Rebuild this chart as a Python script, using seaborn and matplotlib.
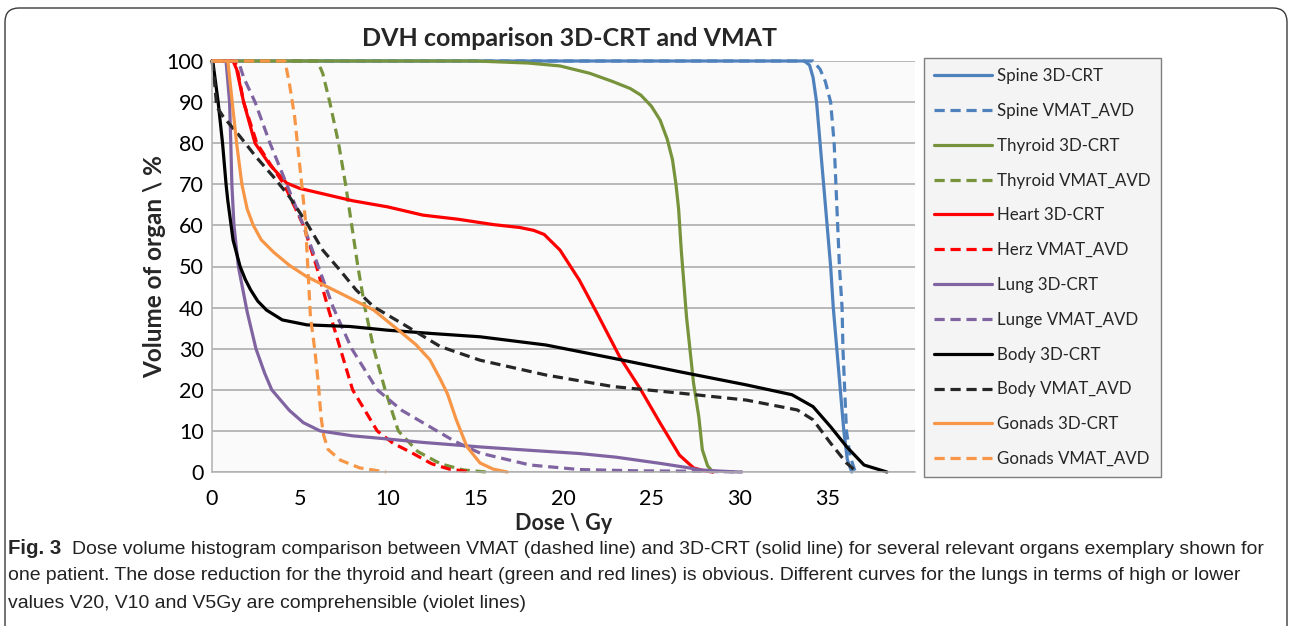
import matplotlib
matplotlib.use('Agg')
import matplotlib.pyplot as plt
import matplotlib.transforms as mtransforms
from matplotlib.patches import FancyBboxPatch
import seaborn as sns

# ---------------- data (Dose in Gy, Volume in %) ----------------
spine_crt_dose = [0, 33.7, 34.0, 34.2, 34.4, 34.6, 34.8, 35.0, 35.2, 35.35, 35.55, 35.75, 35.95, 36.15, 36.4]
spine_crt_vol = [100, 100, 99, 96, 90, 80, 70, 60, 50, 40, 30, 20, 10, 3, 0]

spine_vmat_dose = [0, 34.2, 34.6, 34.9, 35.2, 35.4, 35.5, 35.6, 35.7, 35.85, 35.9, 36.0, 36.1, 36.3, 36.6]
spine_vmat_vol = [100, 100, 98, 95, 90, 80, 70, 60, 50, 40, 30, 20, 10, 4, 0]

thyroid_crt_dose = [0, 15.0, 18.0, 19.8, 21.5, 22.8, 23.8, 24.4, 25.0, 25.5, 25.9, 26.2, 26.4, 26.55, 26.7,
                    27.0, 27.4, 27.7, 27.9, 28.2, 28.5]
thyroid_crt_vol = [100, 100, 99.5, 98.8, 97, 95, 93.3, 91.7, 89, 85.6, 81, 76, 70, 64, 54,
                   37.7, 21.6, 13.4, 5.4, 1.5, 0]

thyroid_vmat_dose = [0, 6.0, 6.3, 6.7, 7.2, 7.6, 7.95, 8.3, 8.7, 9.2, 9.85, 10.6, 11.7, 13.0, 14.3, 15.6]
thyroid_vmat_vol = [100, 100, 97, 90, 80, 70, 60, 50, 40, 30, 20, 10, 5, 2, 0.5, 0]

heart_crt_dose = [0, 1.2, 1.4, 1.8, 2.45, 3.3, 4.25, 5.0, 6.0, 8.0, 10.0, 12.0, 14.0, 16.0, 17.5, 18.3, 18.9,
                  19.8, 20.9, 21.9, 23.2, 24.4, 25.5, 26.6, 27.4, 28.0, 28.5]
heart_crt_vol = [100, 100, 98, 90, 80, 74.7, 70.3, 69, 68, 66, 64.5, 62.5, 61.5, 60.2, 59.5, 58.8, 57.8,
                 54, 46.7, 38.7, 28, 20, 11.9, 4.1, 1, 0.3, 0]

heart_vmat_dose = [0, 1.2, 1.4, 1.8, 2.55, 3.3, 4.1, 5.2, 5.95, 6.6, 7.3, 8.0, 9.4, 10.3, 11.4, 12.5, 13.5, 14.8]
heart_vmat_vol = [100, 100, 99, 90, 80, 75, 70, 60, 50, 40, 30, 20, 10, 7, 4.6, 2, 0.7, 0]

lung_crt_dose = [0, 0.8, 1.0, 1.07, 1.13, 1.25, 1.5, 2.0, 2.5, 3.0, 3.4, 4.4, 5.2, 6.15, 8.0, 9.56, 12.0, 15.25,
                 18.0, 20.9, 23.0, 25.5, 27.0, 27.8, 29.0, 30.0]
lung_crt_vol = [100, 100, 90, 80, 70, 60, 50, 39, 30, 24, 20, 15, 12, 10, 8.8, 8.2, 7.2, 6.1,
                5.3, 4.5, 3.6, 2.1, 1.1, 0.5, 0.2, 0]

lung_vmat_dose = [0, 1.5, 1.8, 2.45, 3.3, 4.25, 5.2, 6.05, 6.9, 7.95, 9.4, 10.8, 12.4, 13.8, 15.25, 18.1,
                  20.9, 24.0, 27.0, 30.2]
lung_vmat_vol = [100, 100, 96, 90, 80, 70, 60, 50, 40, 30, 20, 15, 11, 7.5, 4.6, 1.7, 0.6, 0.3, 0.2, 0]

body_crt_dose = [0, 0.05, 0.35, 0.6, 0.8, 0.9, 1.2, 1.6, 1.9, 2.2, 2.6, 3.1, 4.0, 5.4, 7.85, 10.0, 12.5, 15.25,
                 19.0, 22.8, 26.6, 30.4, 33.0, 34.2, 35.2, 36.1, 37.1, 38.4]
body_crt_vol = [100, 99.8, 90, 80, 70, 66, 56.4, 50, 46.8, 44.3, 41.6, 39.4, 37, 35.8, 35.4, 34.5, 33.7, 32.9,
                30.9, 27.7, 24.4, 21.2, 18.8, 15.9, 11, 6.2, 1.7, 0]

body_vmat_dose = [0, 0.1, 0.27, 0.63, 1.6, 2.5, 3.5, 4.4, 5.4, 6.3, 7.3, 8.2, 9.2, 11.1, 13.0, 15.25, 19.0,
                  22.8, 26.6, 30.4, 33.3, 34.2, 35.2, 36.1, 36.7]
body_vmat_vol = [100, 97, 88.9, 86.5, 81.6, 76.7, 71.8, 67, 60.5, 54, 49, 44.3, 40.2, 35.4, 30.5, 27.2, 23.6,
                 20.8, 19.2, 17.5, 15.1, 12.7, 7, 2.2, 0]

gonads_crt_dose = [0, 0.9, 1.15, 1.4, 1.7, 2.0, 2.35, 2.8, 3.5, 4.4, 5.4, 7.3, 9.2, 10.9, 11.6, 12.4, 13.0,
                   13.4, 13.9, 14.5, 15.25, 16.0, 16.8]
gonads_crt_vol = [100, 100, 90, 80, 70, 64, 60, 56.5, 53.5, 50.3, 47.5, 43.5, 39.4, 33.5, 31, 27.3, 22.5,
                  19, 12.7, 6.2, 2.2, 0.7, 0]

gonads_vmat_dose = [0, 4.15, 4.4, 4.7, 4.9, 5.1, 5.3, 5.4, 5.5, 5.6, 5.85, 6.05, 6.2, 6.35, 6.6, 7.3, 8.4, 9.9]
gonads_vmat_vol = [100, 100, 94.6, 86.5, 78.3, 70.2, 62, 54, 46, 37.8, 29.7, 21.6, 13.5, 9, 5.5, 2.9, 1, 0]

series_labels = ["Spine 3D-CRT", "Spine VMAT_AVD", "Thyroid 3D-CRT", "Thyroid VMAT_AVD",
                 "Heart 3D-CRT", "Herz VMAT_AVD", "Lung 3D-CRT", "Lunge VMAT_AVD",
                 "Body 3D-CRT", "Body VMAT_AVD", "Gonads 3D-CRT", "Gonads VMAT_AVD"]
series_data = [(spine_crt_dose, spine_crt_vol), (spine_vmat_dose, spine_vmat_vol),
               (thyroid_crt_dose, thyroid_crt_vol), (thyroid_vmat_dose, thyroid_vmat_vol),
               (heart_crt_dose, heart_crt_vol), (heart_vmat_dose, heart_vmat_vol),
               (lung_crt_dose, lung_crt_vol), (lung_vmat_dose, lung_vmat_vol),
               (body_crt_dose, body_crt_vol), (body_vmat_dose, body_vmat_vol),
               (gonads_crt_dose, gonads_crt_vol), (gonads_vmat_dose, gonads_vmat_vol)]

x_ticks = [0, 5, 10, 15, 20, 25, 30, 35]
y_ticks = [0, 10, 20, 30, 40, 50, 60, 70, 80, 90, 100]

title = "DVH comparison 3D-CRT and VMAT"
x_label = "Dose \\ Gy"
y_label = "Volume of organ \\ %"
caption_bold = "Fig. 3"
caption_lines = [
    "Dose volume histogram comparison between VMAT (dashed line) and 3D-CRT (solid line) for several relevant organs exemplary shown for",
    "one patient. The dose reduction for the thyroid and heart (green and red lines) is obvious. Different curves for the lungs in terms of high or lower",
    "values V20, V10 and V5Gy are comprehensible (violet lines)",
]

# ---------------- styling ----------------
organ_colors = ["#4F81BD", "#4F81BD", "#77933C", "#77933C", "#FF0000", "#FF0000",
                "#8064A2", "#8064A2", "#000000", "#262626", "#F79646", "#F79646"]
dashed = [False, True] * 6

sns.set_theme(style="white")
plt.rcParams['font.family'] = ['Lato', 'DejaVu Sans']

W, H = 1292, 626
fig = plt.figure(figsize=(W / 100, H / 100), dpi=100)
fig.patch.set_facecolor("white")

# outer rounded frame
frame = FancyBboxPatch((5, -30), W - 10, (H - 8) + 30,
                       boxstyle="round,pad=0,rounding_size=14",
                       transform=mtransforms.IdentityTransform(),
                       facecolor="none", edgecolor="#3a3a3a", linewidth=1.0)
fig.patches.append(frame)

ax = fig.add_axes([212 / W, 1 - 472 / H, (915 - 212) / W, (472 - 61) / H])
ax.set_facecolor("#fafafa")

for (d, v), lab, col, ds in zip(series_data, series_labels, organ_colors, dashed):
    ls = (0, (3.2, 1.8)) if ds else "-"
    sns.lineplot(x=d, y=v, ax=ax, color=col, linestyle=ls, linewidth=2.3,
                 sort=False, estimator=None, label=lab, clip_on=False)

ax.set_xlim(0, 40)
ax.set_ylim(0, 100)
ax.set_xticks(x_ticks)
ax.set_yticks(y_ticks)
ax.tick_params(axis="both", length=0, labelsize=15.5, colors="#000000")
ax.tick_params(axis="x", pad=12)
ax.tick_params(axis="y", pad=6)
ax.yaxis.grid(True, color="#a6a6a6", linewidth=1.1)
ax.xaxis.grid(False)
ax.set_axisbelow(True)
for s in ["top", "right"]:
    ax.spines[s].set_visible(False)
for s in ["left", "bottom"]:
    ax.spines[s].set_color("#b0b0b0")
    ax.spines[s].set_linewidth(1.1)

ax.set_xlabel(x_label, fontsize=15.5, fontweight="bold", labelpad=3)
ax.set_ylabel(y_label, fontsize=17.5, fontweight="bold", labelpad=0)
fig.text(570 / W, 1 - 38 / H, title, ha="center", va="center", fontsize=18, fontweight="bold")

leg = ax.legend(loc="upper left", bbox_to_anchor=(924 / W, 1 - 58 / H), bbox_transform=fig.transFigure,
                borderaxespad=0, fontsize=12.2, handlelength=3.4, handletextpad=0.3,
                labelspacing=1.11, borderpad=0.6, frameon=True, fancybox=False)
leg.get_frame().set_facecolor("#f2f2f2")
leg.get_frame().set_edgecolor("#606060")
leg.get_frame().set_linewidth(1.0)
for t in leg.get_texts():
    t.set_color("#262626")

# caption, sized to fit the reference line widths
cap_font = ['Liberation Sans Narrow', 'Liberation Sans', 'DejaVu Sans']
ys = [549, 576, 603]
xs = [72, 8, 8]
targets = [1264 - 72, 1268 - 8]
fig.canvas.draw()
renderer = fig.canvas.get_renderer()
cap_texts = []
for line, y, x in zip(caption_lines, ys, xs):
    cap_texts.append(fig.text(x / W, 1 - y / H, line, ha="left", va="center", fontsize=15,
                              family=cap_font, color="#222222"))
scales = [targets[i] / cap_texts[i].get_window_extent(renderer).width for i in range(2)]
cap_fs = 15 * min(scales)
for t in cap_texts:
    t.set_fontsize(cap_fs)
fig.text(8 / W, 1 - 549 / H, caption_bold, ha="left", va="center", fontsize=cap_fs * 1.05,
         fontweight="bold", family=cap_font)

fig.savefig("out.png", dpi=100, facecolor="white")
